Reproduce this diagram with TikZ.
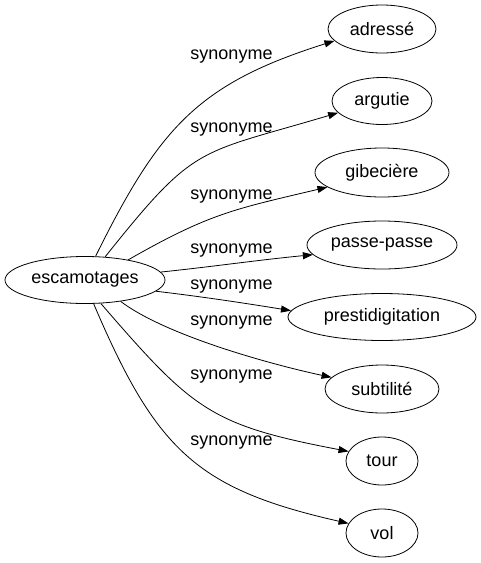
\documentclass[tikz,border=0pt]{standalone}
\usepackage{fontspec}
\setmainfont{Liberation Sans}
\usetikzlibrary{shapes.geometric,arrows.meta}
\begin{document}
\begin{tikzpicture}[x=1pt,y=1pt,
  word/.style={draw, ellipse, inner sep=0pt, minimum height=48pt, font=\fontsize{18}{20}\selectfont, line width=0.8pt},
  rel/.style={line width=0.8pt, -{Triangle[length=10pt,width=7pt]}},
  lab/.style={font=\fontsize{18}{20}\selectfont, inner sep=0pt}]
\useasboundingbox (0,0) rectangle (480,-563);
\node[word, minimum width=160pt, minimum height=47pt] (esc) at (85,-280) {escamotages};
\node[word, minimum width=108pt] (adr) at (382,-29) {adressé};
\node[word, minimum width=100pt, minimum height=47pt] (arg) at (382,-101) {argutie};
\node[word, minimum width=134pt, minimum height=49pt] (gib) at (382,-172.5) {gibecière};
\node[word, minimum width=150pt] (pas) at (382,-245) {passe-passe};
\node[word, minimum width=188pt, minimum height=47pt] (pre) at (382,-317) {prestidigitation};
\node[word, minimum width=114pt] (sub) at (382,-389) {subtilité};
\node[word, minimum width=72pt] (tou) at (382,-461) {tour};
\node[word, minimum width=72pt] (vol) at (382,-533) {vol};

\draw[rel] (esc.66) .. controls (159,-128.5) and (197,-84) .. (adr.194);
\draw[rel] (esc.49) .. controls (196,-143) and (196,-155) .. (arg.195);
\draw[rel] (esc.25) .. controls (210,-213) and (235,-209) .. (gib.195);
\draw[rel] (esc.6) .. controls (210,-267) and (258,-260) .. (pas.188);
\draw[rel] (esc.351) .. controls (205,-297) and (250,-304) .. (pre.176);
\draw[rel] (esc.329) .. controls (168,-337) and (278,-366) .. (sub.167);
\draw[rel] (esc.304) .. controls (193,-410) and (210,-425) .. (tou.164);
\draw[rel] (esc.290) .. controls (156,-450) and (196.5,-489) .. (vol.164);

\node[lab] (l1) at (231.5,-57) {synonyme};
\node[lab] (l2) at (231.5,-130) {synonyme};
\node[lab] (l3) at (231.5,-197) {synonyme};
\node[lab] (l4) at (231.5,-251) {synonyme};
\node[lab] (l5) at (231.5,-287) {synonyme};
\node[lab] (l6) at (231.5,-323) {synonyme};
\node[lab] (l7) at (231.5,-377) {synonyme};
\node[lab] (l8) at (231.5,-443) {synonyme};
\end{tikzpicture}
\end{document}
